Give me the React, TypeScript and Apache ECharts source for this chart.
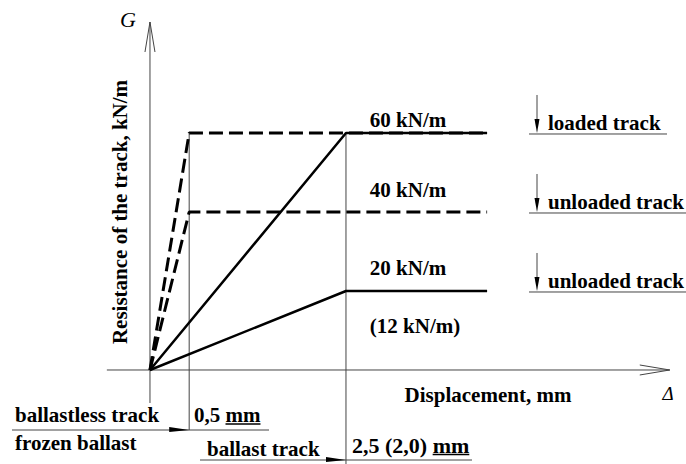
import React, { useEffect, useRef } from "react";
import * as echarts from "echarts";

// Displacement (mm) vs. track resistance (kN/m)
const ballastlessLoaded: number[][] = [[0, 0], [0.5, 60], [4.3, 60]];
const ballastlessUnloaded: number[][] = [[0, 0], [0.5, 40], [4.3, 40]];
const ballastLoaded: number[][] = [[0, 0], [2.5, 60], [4.3, 60]];
const ballastUnloaded: number[][] = [[0, 0], [2.5, 20], [4.3, 20]];

// axis extents (data units)
const xAxisExtent = [-0.55, 6.63];
const yAxisExtent = [-8.35, 88.1];
// guide lines at the limit displacements
const guideX = [0.5, 2.5];
const guideBottom = [-15.2, -23.8];
const guideTop = 60;

const xRange = [-1.913, 6.837];
const yRange = [-23.8, 93.67];

const FONT = "Liberation Serif";
const FS = 21;
const W = 686;
const H = 464;

function measure(text: string, size: number) {
  const c = document.createElement("canvas").getContext("2d");
  if (!c) return text.length * size * 0.5;
  c.font = `bold ${size}px "${FONT}"`;
  return c.measureText(text).width;
}

function txt(text: string, x: number, y: number, opts: any = {}) {
  return {
    type: "text",
    x,
    y,
    rotation: opts.rotation || 0,
    silent: true,
    style: {
      text,
      fill: "#000",
      fontFamily: FONT,
      fontSize: opts.size || FS,
      fontWeight: opts.weight || "bold",
      fontStyle: opts.style || "normal",
      align: opts.align || "left",
      textAlign: opts.align || "left",
      verticalAlign: "middle",
      textVerticalAlign: "middle",
    },
  };
}

function ln(x1: number, y1: number, x2: number, y2: number, color = "#444", w = 1) {
  return {
    type: "line",
    silent: true,
    shape: { x1, y1, x2, y2 },
    style: { stroke: color, lineWidth: w },
  };
}

function poly(points: number[][], fill = "#000") {
  return { type: "polygon", silent: true, shape: { points }, style: { fill } };
}

export default function App() {
  const ref = useRef<HTMLDivElement>(null);
  useEffect(() => {
    if (!ref.current) return;
    const chart = echarts.init(ref.current, undefined, { renderer: "svg" });
    const thin = { color: "#444", width: 1, type: "solid" as const };
    const lineSeries = (data: number[][], style: any, z = 2) => ({
      type: "line",
      data,
      symbol: "none",
      clip: false,
      silent: true,
      z,
      lineStyle: style,
      emphasis: { disabled: true },
    });
    chart.setOption({
      animation: false,
      grid: { left: 0, right: 0, top: 0, bottom: 0 },
      xAxis: { type: "value", min: xRange[0], max: xRange[1], show: false },
      yAxis: { type: "value", min: yRange[0], max: yRange[1], show: false },
      series: [
        lineSeries([[xAxisExtent[0], 0], [xAxisExtent[1], 0]], thin, 1),
        lineSeries([[0, yAxisExtent[0]], [0, yAxisExtent[1]]], thin, 1),
        lineSeries([[guideX[0], guideTop], [guideX[0], guideBottom[0]]], thin, 1),
        lineSeries([[guideX[1], guideTop], [guideX[1], guideBottom[1]]], thin, 1),
        lineSeries(ballastlessLoaded, { color: "#000", width: 3, type: [14, 6] }, 2),
        lineSeries(ballastlessUnloaded, { color: "#000", width: 3, type: [14, 6] }, 2),
        lineSeries(ballastLoaded, { color: "#000", width: 2.5, type: "solid" }, 3),
        lineSeries(ballastUnloaded, { color: "#000", width: 2.5, type: "solid" }, 3),
      ],
    });

    const px = (x: number, y: number) => chart.convertToPixel({ gridIndex: 0 }, [x, y]) as number[];
    const xTip = px(xAxisExtent[1], 0);
    const yTip = px(0, yAxisExtent[1]);
    const g05 = px(guideX[0], guideBottom[0]);
    const g25 = px(guideX[1], guideBottom[1]);
    const yLoaded = px(0, 60)[1];
    const yUn40 = px(0, 40)[1];
    const yUn20 = px(0, 20)[1];

    const ulBallastless = 430;
    const ulBallast = 460;
    const legendX = 537;

    // underline under "mm" of the limit labels
    const lbl05 = "0,5 mm";
    const lbl25 = "2,5 (2,0) mm";
    const x05 = 194;
    const x25 = 352;
    const fs25 = 22;
    const w05 = measure(lbl05, FS);
    const wmm05 = measure("mm", FS);
    const w25 = measure(lbl25, fs25);
    const wmm25 = measure("mm", fs25);

    const graphic: any[] = [
      // axis arrowheads (open)
      { type: "polyline", silent: true, shape: { points: [[xTip[0] - 30, xTip[1] - 5], [xTip[0], xTip[1]], [xTip[0] - 30, xTip[1] + 5]] }, style: { stroke: "#444", lineWidth: 1, fill: null } },
      { type: "polyline", silent: true, shape: { points: [[yTip[0] - 5, yTip[1] + 30], [yTip[0], yTip[1]], [yTip[0] + 5, yTip[1] + 30]] }, style: { stroke: "#444", lineWidth: 1, fill: null } },
      txt("G", 128, 19, { style: "italic", weight: "normal", size: 22, align: "center" }),
      txt("Δ", 668, 393, { style: "italic", weight: "normal", size: 19, align: "center" }),
      txt("Resistance of the track, kN/m", 120, 212, { rotation: Math.PI / 2, align: "center" }),
      txt("Displacement, mm", 488, 395, { align: "center" }),
      // series labels
      txt("60 kN/m", 408, 120, { align: "center" }),
      txt("40 kN/m", 408, 190, { align: "center" }),
      txt("20 kN/m", 408, 268, { align: "center" }),
      txt("(12 kN/m)", 415, 326, { align: "center" }),
      // bottom annotations
      ln(12, ulBallastless, 269, ulBallastless),
      poly([[g05[0] - 20, ulBallastless - 3], [g05[0], ulBallastless], [g05[0] - 20, ulBallastless + 2]]),
      txt("ballastless track", 15, 415),
      txt("frozen ballast", 15, 443),
      txt(lbl05, x05, 415),
      ln(x05 + w05 - wmm05, 424, x05 + w05, 424, "#000", 1.5),
      ln(200, ulBallast, 472, ulBallast),
      poly([[g25[0] - 20, ulBallast - 3], [g25[0], ulBallast], [g25[0] - 20, ulBallast + 2]]),
      txt("ballast track", 207, 449),
      txt(lbl25, x25, 445, { size: fs25 }),
      ln(x25 + w25 - wmm25, 454.5, x25 + w25, 454.5, "#000", 1.5),
      // right-hand legend
      ln(529, yLoaded + 1, 667, yLoaded + 1),
      ln(legendX, yLoaded - 38, legendX, yLoaded - 10),
      poly([[legendX - 2.5, yLoaded - 14], [legendX + 2.5, yLoaded - 14], [legendX, yLoaded]]),
      txt("loaded track", 548, yLoaded - 10),
      ln(529, yUn40 + 1, 686, yUn40 + 1),
      ln(legendX, yUn40 - 38, legendX, yUn40 - 10),
      poly([[legendX - 2.5, yUn40 - 14], [legendX + 2.5, yUn40 - 14], [legendX, yUn40]]),
      txt("unloaded track", 548, yUn40 - 10),
      ln(529, yUn20 + 1, 686, yUn20 + 1),
      ln(legendX, yUn20 - 38, legendX, yUn20 - 10),
      poly([[legendX - 2.5, yUn20 - 14], [legendX + 2.5, yUn20 - 14], [legendX, yUn20]]),
      txt("unloaded track", 548, yUn20 - 10),
    ];
    chart.setOption({ graphic });
    return () => chart.dispose();
  }, []);
  return (
    <div
      ref={ref}
      style={{ position: "fixed", left: 0, top: 0, width: W, height: H, background: "#fff" }}
    />
  );
}
